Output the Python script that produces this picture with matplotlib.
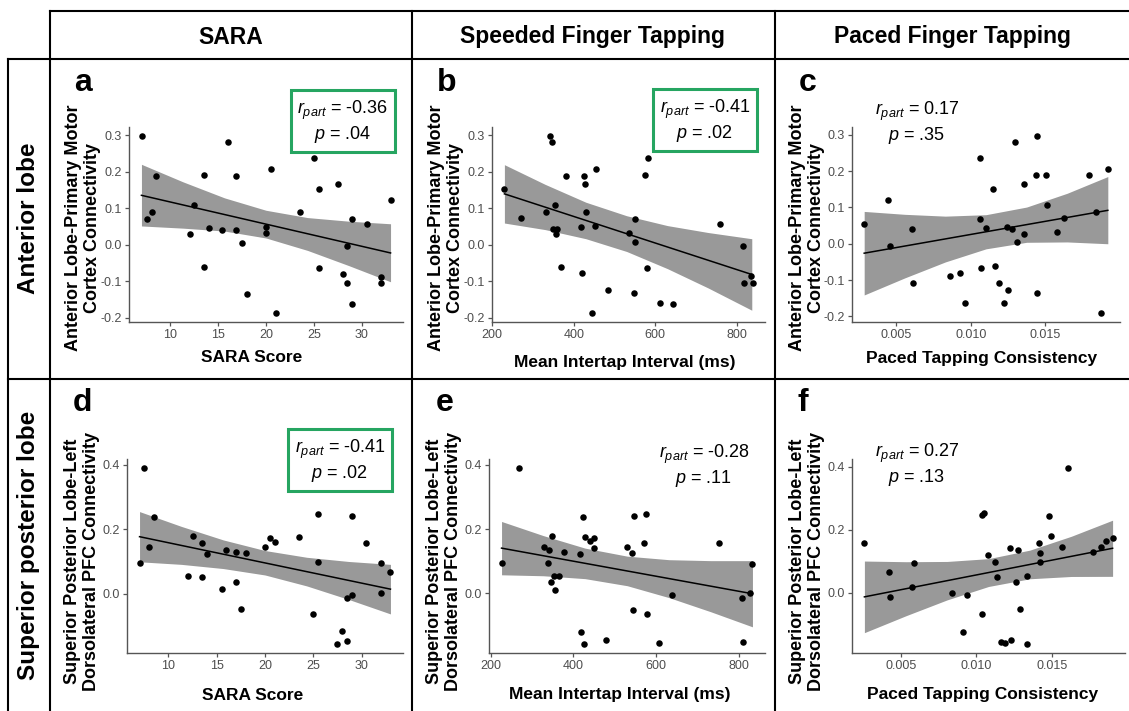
import numpy as np
import matplotlib
matplotlib.use("Agg")
import matplotlib.pyplot as plt
from matplotlib.lines import Line2D

plt.rcParams['font.family'] = ['Liberation Sans', 'DejaVu Sans']
plt.rcParams['mathtext.fontset'] = 'custom'
plt.rcParams['mathtext.it'] = 'Liberation Sans:italic'
plt.rcParams['mathtext.rm'] = 'Liberation Sans'
plt.rcParams['axes.unicode_minus'] = False

W, H = 1129, 711

# ---- data ----
# panel a: SARA score vs anterior lobe - M1 connectivity
xa = [7.1, 7.6, 8.1, 8.5, 12.1, 12.5, 13.5, 13.5, 14.0, 15.4, 16.0, 16.9, 16.9, 17.5, 18.0,
      20.0, 20.0, 20.5, 21.0, 23.5, 25.0, 25.5, 25.5, 27.5, 28.0, 28.5, 28.5, 29.0, 29.0,
      30.5, 32.0, 32.0, 33.0]
ya = [0.298, 0.071, 0.089, 0.188, 0.028, 0.108, 0.190, -0.061, 0.046, 0.041, 0.280, 0.188,
      0.041, 0.005, -0.135, 0.047, 0.033, 0.207, -0.188, 0.088, 0.238, -0.065, 0.152, 0.166,
      -0.080, -0.004, -0.106, 0.069, -0.163, 0.056, -0.089, -0.106, 0.122]
band_xa = [7.0, 11.33, 15.67, 20.0, 24.33, 28.67, 33.0]
band_hi_a = [0.220, 0.172, 0.128, 0.094, 0.074, 0.064, 0.057]
band_lo_a = [0.051, 0.045, 0.037, 0.018, -0.016, -0.058, -0.102]
fit_ya = [0.135, -0.023]

# panel b: mean intertap interval vs anterior lobe - M1 connectivity
xb = [230, 270, 333, 342, 347, 353, 349, 359, 357, 370, 382, 419, 421, 426, 428, 430, 446,
      453, 454, 485, 536, 550, 550, 549, 576, 580, 582, 613, 644, 758, 815, 819, 834, 839]
yb = [0.151, 0.072, 0.088, 0.298, 0.282, 0.109, 0.042, 0.042, 0.029, -0.061, 0.188, 0.047,
      -0.079, 0.188, 0.167, 0.088, -0.188, 0.051, 0.208, -0.125, 0.032, 0.069, 0.006, -0.134,
      0.190, -0.064, 0.238, -0.160, -0.162, 0.056, -0.004, -0.106, -0.087, -0.106]
band_xb = [230, 330, 430, 530, 630, 730, 837]
band_hi_b = [0.219, 0.165, 0.116, 0.079, 0.052, 0.033, 0.016]
band_lo_b = [0.059, 0.041, 0.016, -0.019, -0.066, -0.119, -0.180]
fit_yb = [0.139, -0.082]

# panel c: paced tapping consistency vs anterior lobe - M1 connectivity
xc = [0.00286, 0.00446, 0.00457, 0.00604, 0.00615, 0.00860, 0.00929, 0.00963, 0.01063,
      0.01063, 0.01071, 0.01102, 0.01152, 0.01160, 0.01190, 0.01221, 0.01240, 0.01249,
      0.01279, 0.01299, 0.01307, 0.01359, 0.01359, 0.01435, 0.01446, 0.01446, 0.01504,
      0.01513, 0.01580, 0.01623, 0.01792, 0.01842, 0.01872, 0.01918]
yc = [0.054, 0.120, -0.005, 0.040, -0.107, -0.090, -0.081, -0.164, 0.237, 0.068, -0.067,
      0.044, 0.151, -0.062, -0.107, -0.162, 0.047, -0.127, 0.040, 0.280, 0.005, 0.165, 0.027,
      0.190, 0.297, -0.136, 0.188, 0.107, 0.031, 0.070, 0.188, 0.087, -0.191, 0.206]
band_xc = [0.00286, 0.00558, 0.00830, 0.01102, 0.01374, 0.01646, 0.01918]
band_hi_c = [0.089, 0.081, 0.076, 0.080, 0.101, 0.139, 0.185]
band_lo_c = [-0.141, -0.094, -0.050, -0.014, 0.004, 0.005, 0.000]
fit_yc = [-0.026, 0.092]

# panel d: SARA score vs superior posterior lobe - left DLPFC connectivity
xd = [7.0, 7.5, 8.0, 8.5, 12.0, 12.5, 13.5, 13.5, 14.0, 15.5, 16.0, 17.0, 17.0, 17.5, 18.0,
      20.0, 20.5, 21.0, 23.5, 25.0, 25.5, 25.5, 27.5, 28.0, 28.5, 28.5, 29.0, 29.0, 30.5,
      32.0, 32.0, 33.0]
yd = [0.096, 0.391, 0.144, 0.238, 0.055, 0.178, 0.157, 0.053, 0.122, 0.013, 0.136, 0.128,
      0.035, -0.049, 0.126, 0.144, 0.174, 0.162, 0.176, -0.064, 0.249, 0.097, -0.157, -0.116,
      -0.012, -0.148, -0.004, 0.242, 0.158, 0.094, 0.001, 0.067]
band_xd = [7.0, 11.33, 15.67, 20.0, 24.33, 28.67, 33.0]
band_hi_d = [0.255, 0.209, 0.167, 0.134, 0.113, 0.100, 0.091]
band_lo_d = [0.099, 0.091, 0.078, 0.058, 0.024, -0.018, -0.063]
fit_yd = [0.177, 0.014]

# panel e: mean intertap interval vs superior posterior lobe - left DLPFC connectivity
xe = [226, 269, 329, 342, 349, 339, 345, 353, 355, 365, 378, 417, 418, 424, 427, 426, 439,
      449, 450, 479, 529, 542, 545, 546, 571, 575, 577, 607, 638, 752, 807, 811, 828, 833]
ye = [0.096, 0.391, 0.144, 0.135, 0.178, 0.096, 0.035, 0.055, 0.012, 0.053, 0.128, 0.122,
      -0.119, 0.239, 0.176, -0.158, 0.162, 0.142, 0.173, -0.144, 0.144, 0.126, -0.051, 0.241,
      0.157, 0.248, -0.065, -0.153, -0.005, 0.157, -0.013, -0.151, 0.000, 0.093]
band_xe = [226, 327, 428, 530, 631, 732, 833]
band_hi_e = [0.224, 0.180, 0.141, 0.116, 0.105, 0.102, 0.102]
band_lo_e = [0.058, 0.055, 0.046, 0.024, -0.013, -0.057, -0.104]
fit_ye = [0.141, -0.001]

# panel f: paced tapping consistency vs superior posterior lobe - left DLPFC connectivity
xf = [0.00257, 0.00417, 0.00428, 0.00576, 0.00585, 0.00837, 0.00911, 0.00939, 0.01037,
      0.01039, 0.01048, 0.01076, 0.01124, 0.01137, 0.01163, 0.01193, 0.01220, 0.01230,
      0.01261, 0.01278, 0.01289, 0.01337, 0.01337, 0.01415, 0.01424, 0.01424, 0.01483,
      0.01493, 0.01565, 0.01607, 0.01774, 0.01826, 0.01857, 0.01904]
yf = [0.159, 0.066, -0.015, 0.018, 0.095, -0.001, -0.123, -0.007, -0.068, 0.245, 0.252,
      0.121, 0.096, 0.050, -0.155, -0.158, 0.143, -0.151, 0.033, 0.135, -0.053, 0.053, -0.163,
      0.158, 0.126, 0.096, 0.242, 0.180, 0.146, 0.396, 0.129, 0.145, 0.163, 0.175]
band_xf = [0.00257, 0.00532, 0.00806, 0.01081, 0.01355, 0.01630, 0.01904]
band_hi_f = [0.1005, 0.0984, 0.0992, 0.1081, 0.1351, 0.1790, 0.230]
band_lo_f = [-0.1265, -0.073, -0.0226, 0.0199, 0.0443, 0.0516, 0.052]
fit_yf = [-0.013, 0.141]

col_titles = ["SARA", "Speeded Finger Tapping", "Paced Finger Tapping"]
row_titles = ["Anterior lobe", "Superior posterior lobe"]
xlabels = ["SARA Score", "Mean Intertap Interval (ms)", "Paced Tapping Consistency"]
ylabels = ["Anterior Lobe-Primary Motor\nCortex Connectivity",
           "Superior Posterior Lobe-Left\nDorsolateral PFC Connectivity"]
letters = ["a", "b", "c", "d", "e", "f"]
r_vals = ["-0.36", "-0.41", "0.17", "-0.41", "-0.28", "0.27"]
p_vals = [".04", ".02", ".35", ".02", ".11", ".13"]
significant = [True, True, False, True, False, False]

xticks = [[10, 15, 20, 25, 30], [200, 400, 600, 800], [0.005, 0.010, 0.015]]
xticklabels = [["10", "15", "20", "25", "30"], ["200", "400", "600", "800"],
               ["0.005", "0.010", "0.015"]]
yticks = [[-0.2, -0.1, 0.0, 0.1, 0.2, 0.3], [0.0, 0.2, 0.4]]
yticklabels = [["-0.2", "-0.1", "0.0", "0.1", "0.2", "0.3"], ["0.0", "0.2", "0.4"]]

panels = [
    (xa, ya, band_xa, band_hi_a, band_lo_a, fit_ya),
    (xb, yb, band_xb, band_hi_b, band_lo_b, fit_yb),
    (xc, yc, band_xc, band_hi_c, band_lo_c, fit_yc),
    (xd, yd, band_xd, band_hi_d, band_lo_d, fit_yd),
    (xe, ye, band_xe, band_hi_e, band_lo_e, fit_ye),
    (xf, yf, band_xf, band_hi_f, band_lo_f, fit_yf),
]

# layout, in pixels of the 1129x711 image
axes_px = [(129, 403, 127, 322), (492, 765, 127, 322), (852, 1120, 127, 322),
           (127, 403, 459, 653), (489, 765, 459, 653), (852, 1125, 459, 653)]
letter_px = [(83, 83), (447, 83), (808, 83), (82, 403), (445, 403), (803, 403)]
ylab_px = [(83, 228), (446, 228), (807, 228), (82, 561), (444, 561), (807, 561)]
xlab_px = [(252, 358), (625, 362), (982, 359), (253, 695), (620, 695), (983, 695)]
stat_px = [(343, 122), (705, 121), (917, 123), (340, 461), (704, 466), (917, 465)]


def fx(x):
    return x / W


def fy(y):
    return 1 - y / H


fig = plt.figure(figsize=(W / 100, H / 100), dpi=100)

green = "#26a561"
for i, (x, y, bx, bhi, blo, fit) in enumerate(panels):
    r, c = divmod(i, 3)
    l, rr, t, b = axes_px[i]
    ax = fig.add_axes([fx(l), fy(b), (rr - l) / W, (b - t) / H])
    ax.fill_between(bx, blo, bhi, color="#999999", lw=0, zorder=1)
    ax.plot([bx[0], bx[-1]], fit, color="black", lw=1.1, zorder=2)
    ax.scatter(x, y, s=22, color="black", lw=0, zorder=3)
    ax.margins(0.05)
    ax.set_xticks(xticks[c])
    ax.set_xticklabels(xticklabels[c])
    ax.set_yticks(yticks[r])
    ax.set_yticklabels(yticklabels[r])
    for side in ["top", "right"]:
        ax.spines[side].set_visible(False)
    for side in ["left", "bottom"]:
        ax.spines[side].set_color("#555555")
        ax.spines[side].set_linewidth(1.0)
    ax.tick_params(length=3, width=0.9, color="#555555", labelcolor="#4d4d4d",
                   labelsize=9, pad=2)

    fig.text(fx(letter_px[i][0]), fy(letter_px[i][1]), letters[i], fontsize=23,
             fontweight="bold", ha="center", va="center")
    fig.text(fx(ylab_px[i][0]), fy(ylab_px[i][1]), ylabels[r], fontsize=13,
             fontweight="bold", rotation=90, ha="center", va="center",
             multialignment="center", linespacing=1.1)
    fig.text(fx(xlab_px[i][0]), fy(xlab_px[i][1]), xlabels[c], fontsize=12.5,
             fontweight="bold", ha="center", va="center")

    stat = r"$r_{part}$ = " + r_vals[i] + "\n" + r"$p$ = " + p_vals[i]
    bbox = None
    if significant[i]:
        bbox = dict(boxstyle="square,pad=0.35", fc="white", ec=green, lw=2.2)
    fig.text(fx(stat_px[i][0]), fy(stat_px[i][1]), stat, fontsize=13, ha="center",
             va="center", multialignment="center", linespacing=1.15, bbox=bbox)

# column and row headers
col_cx = [231, 593, 952]
for cx, title in zip(col_cx, col_titles):
    fig.text(fx(cx), fy(37), title, fontsize=16.5, fontweight="bold",
             ha="center", va="center")
row_cy = [218, 545]
for cy, title in zip(row_cy, row_titles):
    fig.text(fx(29), fy(cy), title, fontsize=17.5, fontweight="bold",
             rotation=90, ha="center", va="center")

# table frame lines
lines_px = [
    ((50, W), (11, 11)),
    ((8, W), (58.5, 58.5)),
    ((8, W), (379, 379)),
    ((8, 8), (58.5, H)),
    ((50, 50), (11, H)),
    ((412, 412), (11, H)),
    ((775, 775), (11, H)),
]
for (x0, x1), (y0, y1) in lines_px:
    fig.add_artist(Line2D([fx(x0), fx(x1)], [fy(y0), fy(y1)], color="black", lw=1.5,
                          transform=fig.transFigure))

fig.savefig("out.png", dpi=100)
